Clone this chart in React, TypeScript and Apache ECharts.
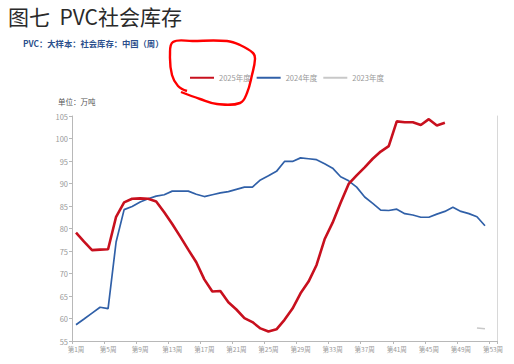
import React, { useEffect, useRef } from "react";
import * as echarts from "echarts";

const weeks = [
  "第1周", "第2周", "第3周", "第4周", "第5周", "第6周", "第7周", "第8周", "第9周", "第10周",
  "第11周", "第12周", "第13周", "第14周", "第15周", "第16周", "第17周", "第18周", "第19周", "第20周",
  "第21周", "第22周", "第23周", "第24周", "第25周", "第26周", "第27周", "第28周", "第29周", "第30周",
  "第31周", "第32周", "第33周", "第34周", "第35周", "第36周", "第37周", "第38周", "第39周", "第40周",
  "第41周", "第42周", "第43周", "第44周", "第45周", "第46周", "第47周", "第48周", "第49周", "第50周",
  "第51周", "第52周", "第53周",
];

const series2025 = [
  79.1, 77.1, 75.2, 75.3, 75.4, 82.6, 85.8, 86.6, 86.7, 86.6,
  86.0, 83.6, 81.0, 78.2, 75.3, 72.5, 68.7, 66.0, 66.1, 63.6,
  62.0, 60.1, 59.2, 57.8, 57.1, 57.6, 59.7, 62.2, 65.6, 68.2,
  71.9, 77.6, 81.3, 85.7, 89.9, 91.8, 93.6, 95.5, 97.1, 98.3,
  103.8, 103.6, 103.6, 103.0, 104.3, 102.9, 103.5,
];

const series2024 = [
  58.6, 59.9, 61.2, 62.5, 62.2, 77.0, 84.2, 84.9, 85.9, 86.6,
  87.2, 87.5, 88.3, 88.3, 88.3, 87.6, 87.1, 87.5, 87.9, 88.2,
  88.7, 89.2, 89.2, 90.8, 91.7, 92.7, 94.9, 94.9, 95.7, 95.5,
  95.3, 94.4, 93.4, 91.5, 90.6, 89.2, 87.0, 85.6, 84.1, 84.0,
  84.3, 83.3, 83.0, 82.5, 82.5, 83.2, 83.8, 84.7, 83.8, 83.3,
  82.6, 80.6,
];

const weeks2023 = ["第51周", "第52周"];
const series2023 = [57.9, 57.7];

const seriesNames = ["2025年度", "2024年度", "2023年度"];
const yTicks = { min: 55, max: 105, interval: 5 };

const titleText = "图七  PVC社会库存";
const subtitleText = "PVC：大样本：社会库存：中国（周）";
const unitText = "单位：万吨";

const FONT = "'Noto Sans CJK SC', 'Noto Sans', sans-serif";

export default function App() {
  const ref = useRef<HTMLDivElement>(null);

  useEffect(() => {
    if (!ref.current) return;
    const chart = echarts.init(ref.current, undefined, { renderer: "svg" });

    const scribble = [
      [181, 92], [200, 99], [217, 104], [240, 103], [247, 93], [252, 75],
      [255, 59], [253, 53], [240, 45], [227, 41], [193, 41], [173, 42],
      [170, 55], [172, 75], [178, 86], [187, 91],
    ];

    chart.setOption({
      animation: false,
      backgroundColor: "#ffffff",
      textStyle: { fontFamily: FONT },
      title: [
        {
          text: titleText,
          left: 3,
          top: 0,
          textStyle: { fontSize: 21, fontWeight: "normal", color: "#2a2a2a", fontFamily: FONT },
        },
        {
          text: subtitleText,
          left: 18,
          top: 34,
          textStyle: { fontSize: 8.3, fontWeight: "bold", color: "#2b4f8c", fontFamily: FONT },
        },
        {
          text: unitText,
          left: 53,
          top: 93,
          textStyle: { fontSize: 7.5, fontWeight: "normal", color: "#555", fontFamily: FONT },
        },
      ],
      legend: {
        left: 185,
        top: 69,
        itemWidth: 24,
        itemHeight: 8,
        itemGap: 6,
        icon: "path://M0,3L24,3L24,5L0,5Z",
        textStyle: { fontSize: 7.5, color: "#999", fontFamily: FONT },
        data: seriesNames,
      },
      grid: { left: 72, right: 17, top: 116, bottom: 23, containLabel: false },
      xAxis: {
        type: "category",
        data: weeks,
        boundaryGap: true,
        axisLine: { show: true, lineStyle: { color: "#b8b8b8" } },
        axisTick: { show: true, interval: 3, length: 3, lineStyle: { color: "#b8b8b8" } },
        axisLabel: { interval: 3, fontSize: 6.5, color: "#999", margin: 5 },
        splitLine: { show: false },
      },
      yAxis: [
        {
          type: "value",
          min: yTicks.min,
          max: yTicks.max,
          interval: yTicks.interval,
          axisLine: { show: true, lineStyle: { color: "#b8b8b8" } },
          axisTick: { show: true, length: 3, lineStyle: { color: "#b8b8b8" } },
          axisLabel: { fontSize: 7.5, color: "#999", margin: 4 },
          splitLine: { show: false },
        },
        {
          type: "value",
          min: yTicks.min,
          max: yTicks.max,
          interval: yTicks.interval,
          position: "right",
          axisLine: { show: true, lineStyle: { color: "#d8d8d8" } },
          axisTick: { show: false },
          axisLabel: { show: false },
          splitLine: { show: false },
        },
      ],
      series: [
        {
          name: seriesNames[0],
          type: "line",
          data: series2025,
          showSymbol: false,
          symbol: "none",
          lineStyle: { color: "#c8101e", width: 2.6 },
          itemStyle: { color: "#c8101e" },
          z: 3,
        },
        {
          name: seriesNames[1],
          type: "line",
          data: series2024,
          showSymbol: false,
          symbol: "none",
          lineStyle: { color: "#3060a8", width: 1.7 },
          itemStyle: { color: "#3060a8" },
          z: 2,
        },
        {
          name: seriesNames[2],
          type: "line",
          data: weeks2023.map((w, i) => [w, series2023[i]]),
          showSymbol: false,
          symbol: "none",
          lineStyle: { color: "#c8c8c8", width: 1.5 },
          itemStyle: { color: "#c8c8c8" },
          z: 1,
        },
      ],
      graphic: [
        {
          type: "polyline",
          shape: { points: scribble, smooth: 0.4 },
          style: { stroke: "#ff0000", lineWidth: 2.4, fill: "none" },
          z: 100,
        },
      ],
    });

    return () => chart.dispose();
  }, []);

  return (
    <div
      ref={ref}
      style={{ position: "fixed", left: 0, top: 0, width: 514, height: 364 }}
    />
  );
}
